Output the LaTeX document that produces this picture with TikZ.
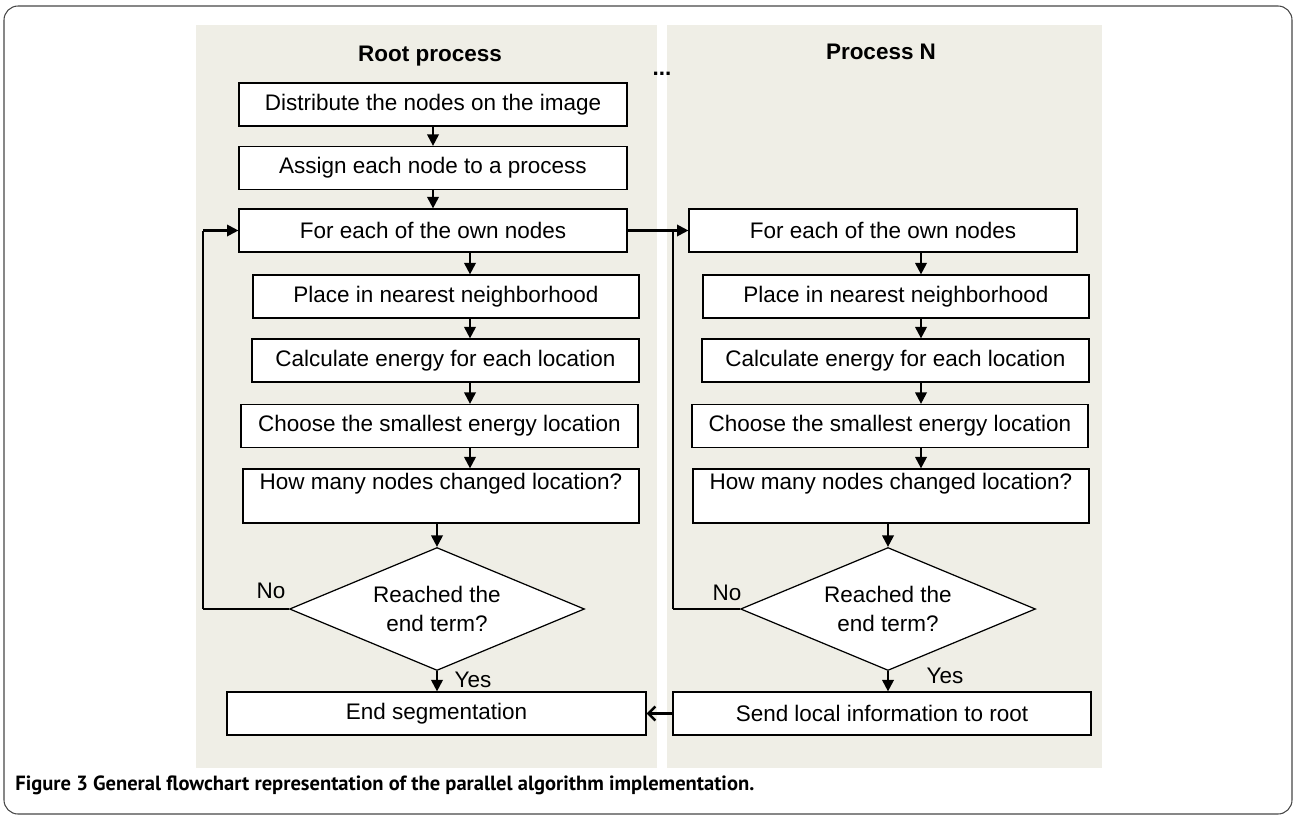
\documentclass[tikz,border=0pt]{standalone}
\usepackage{fontspec}
\setmainfont{Liberation Sans}
\newfontfamily\capfont{PT Sans}
\usetikzlibrary{shapes,arrows.meta,positioning,calc}
\definecolor{panelbg}{RGB}{239,238,230}
\definecolor{framegray}{RGB}{70,70,70}
\newcommand{\boxfont}{\fontsize{12.8}{16.4}\selectfont}

\begin{document}
\begin{tikzpicture}[x=0.02cm,y=-0.02cm]
             \tikzstyle{stepbox} = [draw,fill=white,line width=0.7pt,inner sep=0pt,minimum height=0.86cm,font=\boxfont]
             \tikzstyle{decision} = [draw,fill=white,diamond,aspect=2.4,line width=0.7pt,inner sep=0pt,minimum width=5.9cm,minimum height=2.46cm,align=center,font=\boxfont]
             \tikzstyle{flow} = [line width=1.2pt,-{Triangle[length=6.5pt,width=6.5pt]}]
             \tikzstyle{back} = [line width=1.2pt,-{Straight Barb[length=4pt,width=8pt,line width=1.4pt]}]
             \tikzstyle{loop} = [line width=0.8pt]
             \tikzstyle{lbl} = [inner sep=0pt,font=\boxfont]
		\useasboundingbox (0,0) rectangle (1294,818);
		\draw[framegray,line width=0.6pt,rounded corners=8pt] (4,6) rectangle (1292,814);
		% Panels
		\fill[panelbg] (196,25) rectangle (657,768);
		\fill[panelbg] (667,25) rectangle (1102,768);
		\node[lbl,font=\boxfont\bfseries] (head_r) at (430,56) {Root process};
		\node[lbl,font=\boxfont\bfseries] (head_n) at (881,52) {Process N};
		\node[lbl,font=\boxfont\bfseries] (dots) at (662,74) {...};
		% Root process
		\node[stepbox,minimum width=7.76cm] (r_1) at (433,104.5) {Distribute the nodes on the image};
		\node[stepbox,minimum width=7.76cm] (r_2) at (433,168) {Assign each node to a process};
		\node[stepbox,minimum width=7.76cm] (r_3) at (433,230.5) {For each of the own nodes};
		\node[stepbox,minimum width=7.72cm] (r_4) at (446,296.5) {Place in nearest neighborhood};
		\node[stepbox,minimum width=7.74cm] (r_5) at (445.5,360.5) {Calculate energy for each location};
		\node[stepbox,minimum width=7.94cm] (r_6) at (439.5,426) {Choose the smallest energy location};
		\node[stepbox,minimum width=7.92cm,minimum height=1.08cm,text depth=0.6cm] (r_7) at (441,496) {How many nodes changed location?};
		\node[decision] (r_8) at (437,609) {Reached the\\end term?};
		\node[stepbox,minimum width=8.38cm] (r_9) at (436.5,713.5) {End segmentation};
		\coordinate (col_r) at (470,0);
		\coordinate (loop_r) at (203,609);
		\draw[flow] (r_1) -- (r_2);
		\draw[flow] (r_2) -- (r_3);
		\draw[flow] (r_3.south -| col_r) -- (r_4.north -| col_r);
		\draw[flow] (r_4.south -| col_r) -- (r_5.north -| col_r);
		\draw[flow] (r_5.south -| col_r) -- (r_6.north -| col_r);
		\draw[flow] (r_6.south -| col_r) -- (r_7.north -| col_r);
		\draw[flow] (r_7.south -| r_8) -- (r_8.north);
		\draw[flow] (r_8.south) -- (r_9.north -| r_8);
		\draw[loop] (r_8.west) -- (loop_r);
		\draw[loop] (loop_r) -- (loop_r |- r_3.west);
		\draw[flow] (loop_r |- r_3.west) -- (r_3.west);
		\node[lbl] (no_r) at (271,591) {No};
		\node[lbl] (yes_r) at (473,680) {Yes};
		% Process N
		\node[stepbox,minimum width=7.76cm] (n_1) at (883,230.5) {For each of the own nodes};
		\node[stepbox,minimum width=7.72cm] (n_2) at (896,296.5) {Place in nearest neighborhood};
		\node[stepbox,minimum width=7.74cm] (n_3) at (895.5,360.5) {Calculate energy for each location};
		\node[stepbox,minimum width=7.92cm] (n_4) at (890,426) {Choose the smallest energy location};
		\node[stepbox,minimum width=7.92cm,minimum height=1.08cm,text depth=0.6cm] (n_5) at (891,496) {How many nodes changed location?};
		\node[decision] (n_6) at (888,609) {Reached the\\end term?};
		\node[stepbox,minimum width=8.36cm] (n_7) at (882,713.5) {Send local information to root};
		\coordinate (col_n) at (921,0);
		\coordinate (loop_n) at (673,609);
		\draw[flow] (r_3.east) -- (n_1.west);
		\draw[flow] (n_1.south -| col_n) -- (n_2.north -| col_n);
		\draw[flow] (n_2.south -| col_n) -- (n_3.north -| col_n);
		\draw[flow] (n_3.south -| col_n) -- (n_4.north -| col_n);
		\draw[flow] (n_4.south -| col_n) -- (n_5.north -| col_n);
		\draw[flow] (n_5.south -| n_6) -- (n_6.north);
		\draw[flow] (n_6.south) -- (n_7.north -| n_6);
		\draw[loop] (n_6.west) -- (loop_n);
		\draw[loop] (loop_n) -- (loop_n |- n_1.west);
		\draw[back] (n_7.west) -- (r_9.east);
		\node[lbl] (no_n) at (727,593) {No};
		\node[lbl] (yes_n) at (945,676) {Yes};
		% Caption
		\node[anchor=west,inner sep=0pt,font=\capfont\fontsize{11.7}{14}\selectfont\bfseries] (caption) at (15,785) {Figure 3 General flowchart representation of the parallel algorithm implementation.};
		\end{tikzpicture}
\end{document}
